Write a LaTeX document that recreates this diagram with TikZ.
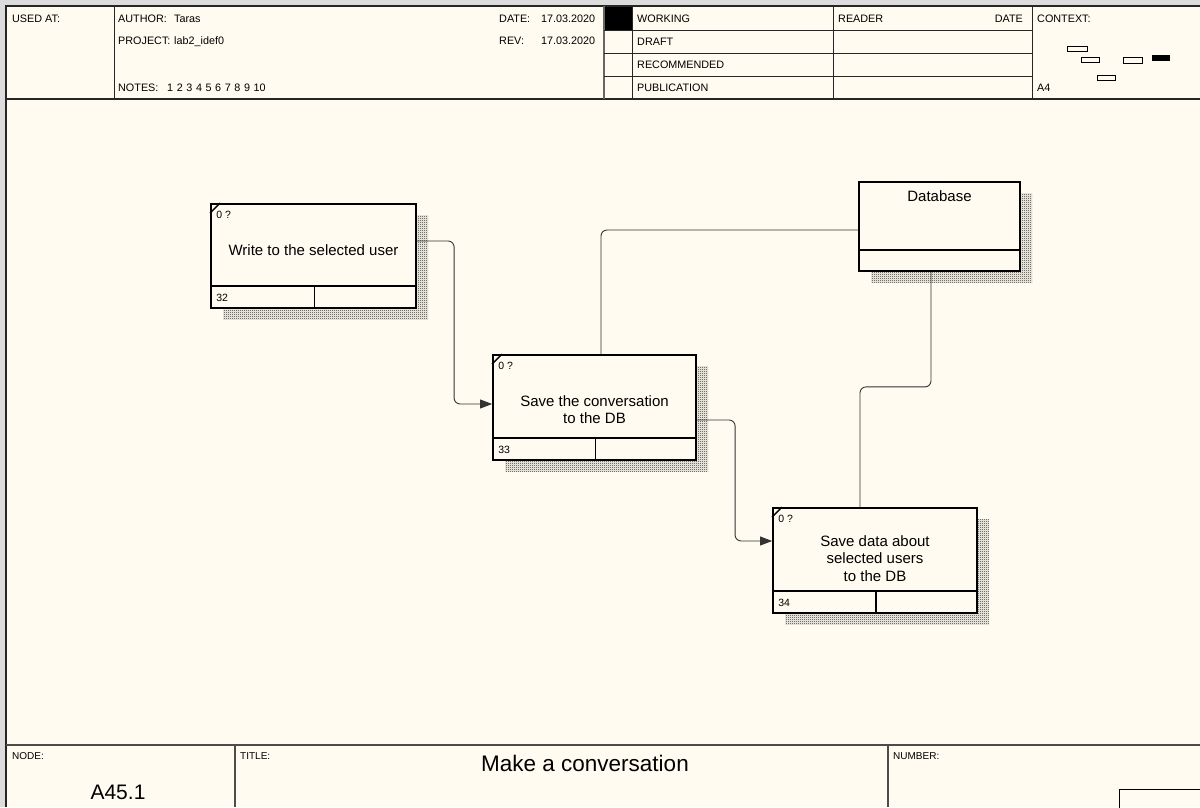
\documentclass[tikz,border=0pt]{standalone}
\usepackage{fontspec}
\setmainfont{Liberation Sans}
\usetikzlibrary{arrows.meta,shadows,patterns,calc}
\definecolor{paper}{HTML}{FFFBF0}
\definecolor{rim}{HTML}{DCDCDC}

% one-pixel checkerboard used for the box shadows
\pgfdeclarepatternformonly{checker}{\pgfpointorigin}{\pgfpoint{2pt}{2pt}}{\pgfpoint{2pt}{2pt}}{%
  \pgfpathrectangle{\pgfpointorigin}{\pgfpoint{1pt}{1pt}}%
  \pgfpathrectangle{\pgfpoint{1pt}{1pt}}{\pgfpoint{1pt}{1pt}}%
  \pgfusepath{fill}%
}

\begin{document}
\begin{tikzpicture}[x=1pt,y=-1pt,
  hdr/.style={anchor=base west,inner sep=0pt,font=\fontsize{10.8}{12}\selectfont},
  rule/.style={line width=1pt,black!85},
  box/.style={draw,line width=1.8pt,fill=paper,inner sep=0pt,
    general shadow={shadow xshift=12pt,shadow yshift=-11pt,pattern=checker,pattern color=black!85}},
  boxtxt/.style={align=center,inner sep=0pt,font=\fontsize{15}{17.5}\selectfont},
  tag/.style={anchor=base west,inner sep=0pt,font=\fontsize{10.5}{12}\selectfont},
  inner/.style={line width=1.8pt},
  conn/.style={line width=0.9pt,draw=black!80,rounded corners=6pt},
  flow/.style={conn,-{Triangle[length=12pt,width=9pt]}},
  ctx/.style={draw,line width=0.8pt,fill=paper},
]
\useasboundingbox (0,0) rectangle (1200,807);
\fill[paper] (0,0) rectangle (1200,807);

% outer frame
\fill[rim] (0,0) rectangle (1200,5);
\fill[rim] (0,0) rectangle (5,807);
\draw[line width=2pt,black!85] (6,807) -- (6,6) -- (1200,6);

% header block
\draw[line width=1.6pt,black!85] (6,99) -- (1200,99);
\draw[rule] (114,6) -- (114,99);
\draw[line width=1.8pt,black!60] (604,6) -- (604,99);
\draw[rule] (632,6) -- (632,99);
\draw[rule] (833,6) -- (833,99);
\draw[rule] (1032,6) -- (1032,99);
\draw[rule] (604,30) -- (1032,30);
\draw[rule] (604,53) -- (1032,53);
\draw[rule] (604,76) -- (1032,76);
\fill[black] (605,7) rectangle (632,30);

\node[hdr] (usedat) at (12,22) {USED AT:};
\node[hdr] (author) at (118,22) {AUTHOR:};
\node[hdr] (authorv) at (174,22) {Taras};
\node[hdr] (project) at (118,44) {PROJECT:};
\node[hdr] (projectv) at (174,44) {lab2\_idef0};
\node[hdr] (notes) at (118,91) {NOTES:};
\node[hdr] (notesv) at (167,91) {1\,\,2\,\,3\,\,4\,\,5\,\,6\,\,7\,\,8\,\,9\,\,10};
\node[hdr] (date) at (499,22) {DATE:};
\node[hdr] (datev) at (541,22) {17.03.2020};
\node[hdr] (rev) at (499,44) {REV:};
\node[hdr] (revv) at (541,44) {17.03.2020};
\node[hdr] (working) at (637,22) {WORKING};
\node[hdr] (draft) at (637,45) {DRAFT};
\node[hdr] (recommended) at (637,68) {RECOMMENDED};
\node[hdr] (publication) at (637,91) {PUBLICATION};
\node[hdr] (reader) at (838,22) {READER};
\node[hdr,anchor=base east] (readerdate) at (1023,22) {DATE};
\node[hdr] (context) at (1037,22) {CONTEXT:};
\node[hdr] (sheet) at (1037,91) {A4};

% context thumbnail
\draw[ctx] (1067,46) rectangle (1087,51);
\draw[ctx] (1081,57) rectangle (1099,62);
\draw[ctx] (1123,57) rectangle (1142,63);
\fill[black] (1152,55) rectangle (1170,61);
\draw[ctx] (1097,75) rectangle (1115,80);

% footer block
\draw[line width=1.8pt,black!70] (6,745) -- (1200,745);
\draw[line width=1.4pt,black!70] (235,745) -- (235,807);
\draw[line width=1.4pt,black!70] (888,745) -- (888,807);
\draw[line width=1pt] (1119,808) -- (1119,789) -- (1201,789);
\node[hdr,font=\fontsize{10}{12}\selectfont] (nodelbl) at (12,759) {NODE:};
\node[hdr,font=\fontsize{10}{12}\selectfont] (titlelbl) at (240,759) {TITLE:};
\node[hdr,font=\fontsize{10}{12}\selectfont] (numberlbl) at (893,759) {NUMBER:};
\node[anchor=base,inner sep=0pt,font=\fontsize{21}{24}\selectfont] (nodeid) at (118,799) {A45.1};
\node[anchor=base,inner sep=0pt,font=\fontsize{22.5}{26}\selectfont] (title) at (585,771) {Make a conversation};

% activity boxes
\node[box,minimum width=205pt,minimum height=104pt] (b1) at (313.5,256) {};
\node[box,minimum width=203pt,minimum height=105pt] (b2) at (594.5,407.5) {};
\node[box,minimum width=204pt,minimum height=105pt] (b3) at (875,560.5) {};
\node[box,minimum width=161pt,minimum height=89pt] (db) at (939.5,226.5) {};

\foreach \b/\n in {b1/32,b2/33,b3/34}{
  \draw[inner] ([yshift=23pt]\b.south west) -- ([yshift=23pt]\b.south east);
  \draw[inner] ([xshift=1pt]\b.south) -- ([xshift=1pt,yshift=23pt]\b.south);
  \draw[line width=1.4pt] ([yshift=-10pt]\b.north west) -- ([xshift=10pt]\b.north west);
  \node[tag] at ([xshift=6pt,yshift=-15pt]\b.north west) {0 ?};
  \node[tag] at ([xshift=6pt,yshift=7pt]\b.south west) {\n};
}
\draw[inner] ([yshift=22pt]db.south west) -- ([yshift=22pt]db.south east);

\node[boxtxt] (t1) at ([yshift=6pt]b1.center) {Write to the selected user};
\node[boxtxt] (t2) at ([yshift=-2pt]b2.center) {Save the conversation\\to the DB};
\node[boxtxt] (t3) at ([yshift=2pt]b3.center) {Save data about\\selected users\\to the DB};
\node[boxtxt] (tdb) at ([yshift=-15pt]db.north) {Database};

% arrows between activities
\draw[flow] ([yshift=15pt]b1.east) -| ([xshift=-38pt,yshift=3.5pt]b2.west) -- ([yshift=3.5pt]b2.west);
\draw[flow] ([yshift=-12.5pt]b2.east) -| ([xshift=-37pt,yshift=19.5pt]b3.west) -- ([yshift=19.5pt]b3.west);
\draw[conn] ([xshift=6.5pt]b2.north) |- ([yshift=-3.5pt]db.west);
\draw[conn] ([xshift=-8.5pt]db.south) -- ++(0,115) -| ([xshift=-15pt]b3.north);
\end{tikzpicture}
\end{document}
